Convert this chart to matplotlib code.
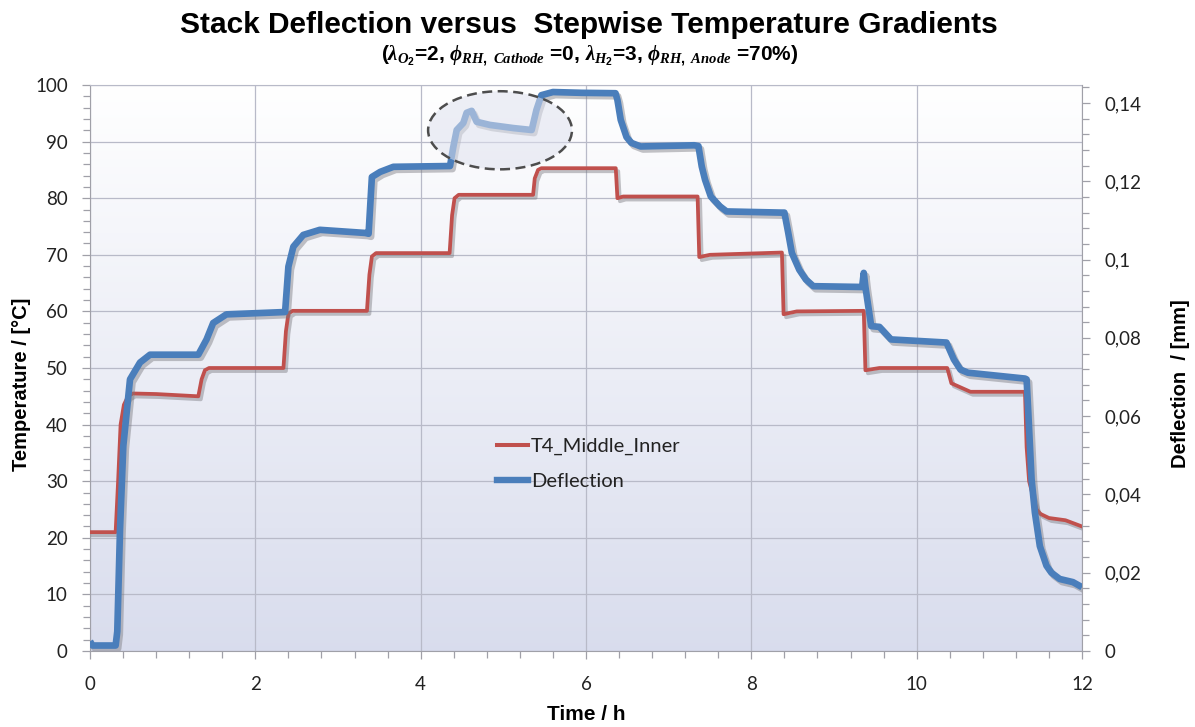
import numpy as np
import matplotlib
matplotlib.use("Agg")
import matplotlib.pyplot as plt
import matplotlib.patheffects as pe
from matplotlib.patches import Ellipse
from matplotlib.lines import Line2D
from matplotlib.ticker import MultipleLocator, FixedLocator

# ---------------- data ----------------
# T4_Middle_Inner temperature [°C] over time [h]
time_temp = [0.00, 0.31, 0.34, 0.37, 0.41, 0.46, 0.52, 0.80, 1.31, 1.35, 1.39, 1.44,
             2.34, 2.37, 2.40, 2.45, 3.35, 3.38, 3.41, 3.46, 4.35, 4.38, 4.41, 4.46,
             5.36, 5.38, 5.42, 5.46, 6.36, 6.38, 6.45, 7.35, 7.37, 7.50, 8.37,
             8.39, 8.55, 9.36, 9.38, 9.55, 10.37, 10.42, 10.65, 11.31, 11.33,
             11.36, 11.45, 11.50, 11.60, 11.80, 12.00]
temp = [21.0, 21.0, 30.0, 40.0, 43.5, 45.0, 45.5, 45.4, 45.0, 48.0, 49.6, 50.0,
        50.0, 56.5, 59.6, 60.1, 60.1, 66.5, 69.7, 70.3, 70.3, 77.0, 80.0, 80.6,
        80.6, 83.5, 85.0, 85.3, 85.3, 80.0, 80.3, 80.3, 69.6, 70.0, 70.4,
        59.5, 60.0, 60.1, 49.6, 50.0, 50.0, 47.3, 45.8, 45.8, 36.0,
        30.0, 25.0, 24.2, 23.5, 23.1, 22.0]

# Stack deflection [mm] over time [h]
time_defl = [0.00, 0.03, 0.31, 0.33, 0.363, 0.403, 0.484, 0.605, 0.726, 1.31, 1.41,
             1.49, 1.65, 2.36, 2.40, 2.46, 2.58, 2.78, 3.33, 3.37, 3.41, 3.51, 3.67,
             4.355, 4.395, 4.436, 4.516, 4.556, 4.617, 4.677, 4.838, 5.12, 5.343,
             5.40, 5.46, 5.60, 5.95, 6.357, 6.38, 6.42, 6.49, 6.55, 6.66, 7.31,
             7.36, 7.40, 7.44, 7.51, 7.62, 7.70, 8.36, 8.40, 8.445, 8.49, 8.58,
             8.66, 8.75, 9.34, 9.36, 9.38, 9.45, 9.55, 9.69, 10.36, 10.45, 10.53,
             10.62, 11.31, 11.33, 11.35, 11.39, 11.43, 11.49, 11.57, 11.63, 11.73,
             11.89, 12.00]
defl = [0.0025, 0.0014, 0.0014, 0.0050, 0.0310, 0.0524, 0.0694, 0.0737, 0.0757, 0.0757, 0.0796,
        0.0838, 0.0860, 0.0866, 0.0982, 0.1033, 0.1063, 0.1076, 0.1068, 0.1066, 0.1211, 0.1224, 0.1237,
        0.1239, 0.1288, 0.1331, 0.1349, 0.1375, 0.1380, 0.1352, 0.1344, 0.1336, 0.1331,
        0.1382, 0.1420, 0.1428, 0.1426, 0.1425, 0.1408, 0.1357, 0.1313, 0.1298, 0.1289, 0.1292,
        0.1290, 0.1238, 0.1204, 0.1161, 0.1136, 0.1123, 0.1120, 0.1120, 0.1070, 0.1017, 0.0974,
        0.0949, 0.0932, 0.0930, 0.0966, 0.0930, 0.0830, 0.0828, 0.0796, 0.0788, 0.0745, 0.0719,
        0.0711, 0.0696, 0.0694, 0.0610, 0.0439, 0.0354, 0.0268, 0.0218, 0.0200, 0.0184,
        0.0176, 0.0163]

x_ticks = [0, 2, 4, 6, 8, 10, 12]
temp_ticks = [0, 10, 20, 30, 40, 50, 60, 70, 80, 90, 100]
defl_ticks = [0, 0.02, 0.04, 0.06, 0.08, 0.10, 0.12, 0.14]
defl_labels = ["0", "0,02", "0,04", "0,06", "0,08", "0,1", "0,12", "0,14"]

series_names = ["T4_Middle_Inner", "Deflection"]

# ---------------- style ----------------
plt.rcParams["font.family"] = ["Lato", "DejaVu Sans"]
plt.rcParams["mathtext.fontset"] = "custom"
plt.rcParams["mathtext.rm"] = "Liberation Sans:bold"
plt.rcParams["mathtext.it"] = "Liberation Serif:italic:bold"
plt.rcParams["mathtext.bf"] = "Liberation Sans:bold"

RED = "#c0504d"
BLUE = "#4a7ebb"
AXIS_GREY = "#a0a0a8"
GRID_GREY = "#b8bac8"
BOLD_FONT = "Liberation Sans"

W, H = 1195, 727
fig = plt.figure(figsize=(W / 100, H / 100), dpi=100)
ax = fig.add_axes([90 / W, 76 / H, 992 / W, 566 / H])
ax.set_xlim(0, 12)
ax.set_ylim(0, 100)

# plot-area background: vertical white-to-lavender gradient
top_c = np.array([1.0, 1.0, 1.0])
bot_c = np.array([0.85, 0.865, 0.93])
frac = np.linspace(0, 1, 256)[:, None]
grad = (top_c * (1 - frac) + bot_c * frac)[:, None, :]
ax.imshow(grad, extent=[0, 12, 0, 100], aspect="auto", origin="upper",
          interpolation="bicubic", zorder=0)
ax.patch.set_visible(False)

ax.set_axisbelow(True)
ax.grid(True, which="major", color=GRID_GREY, linewidth=0.9)

shadow = [pe.SimpleLineShadow(offset=(1.8, -2.2), shadow_color="#7a7a80", alpha=0.45),
          pe.Normal()]

ax.plot(time_temp, temp, color=RED, linewidth=2.7, solid_joinstyle="round",
        path_effects=shadow, zorder=3)

ax2 = ax.twinx()
ax2.set_ylim(0, 0.1446)
ax2.plot(time_defl, defl, color=BLUE, linewidth=4.8, solid_joinstyle="round",
         solid_capstyle="butt", path_effects=shadow, zorder=3)

# highlight ellipse around the overshoot
ell = Ellipse((4.96, 92.0), 1.74, 13.8, transform=ax.transData,
              facecolor="#dfe2ef", alpha=0.55, edgecolor="none", zorder=6)
ax2.add_patch(ell)
ell_edge = Ellipse((4.96, 92.0), 1.74, 13.8, transform=ax.transData,
                   facecolor="none", edgecolor="#4d4d4d", linewidth=1.8,
                   linestyle=(0, (4, 2.2)), zorder=7)
ax2.add_patch(ell_edge)

# ---------------- axes & ticks ----------------
ax.xaxis.set_major_locator(FixedLocator(x_ticks))
ax.xaxis.set_minor_locator(MultipleLocator(0.4))
ax.set_xticklabels([str(v) for v in x_ticks])
ax.yaxis.set_major_locator(FixedLocator(temp_ticks))
ax.yaxis.set_minor_locator(MultipleLocator(2))
ax.set_yticklabels([str(v) for v in temp_ticks])
ax2.yaxis.set_major_locator(FixedLocator(defl_ticks))
ax2.yaxis.set_minor_locator(MultipleLocator(0.004))
ax2.set_yticklabels(defl_labels)

for a in (ax, ax2):
    a.tick_params(which="both", direction="out", color=AXIS_GREY, width=0.9,
                  labelsize=13.5, labelcolor="#222222")
    a.tick_params(which="major", length=6)
    a.tick_params(which="minor", length=5)
ax.tick_params(axis="x", pad=12)
ax.tick_params(axis="y", pad=10)
ax2.tick_params(axis="y", pad=10)

for s in ("left", "bottom", "right"):
    ax.spines[s].set_color(AXIS_GREY)
ax.spines["top"].set_color(GRID_GREY)
ax.spines["right"].set_visible(False)
for s in ("left", "top", "bottom"):
    ax2.spines[s].set_visible(False)
ax2.spines["right"].set_color(AXIS_GREY)

# ---------------- text ----------------
fig.text(589 / W, 1 - 25 / H, "Stack Deflection versus  Stepwise Temperature Gradients",
         ha="center", va="center", fontsize=21.5, fontweight="bold", family=BOLD_FONT)
fig.text(590 / W, 1 - 56 / H,
         r"($\lambda_{O_2}$=2, $\phi_{RH,\ Cathode}$ =0, $\lambda_{H_2}$=3, $\phi_{RH,\ Anode}$ =70%)",
         ha="center", va="center", fontsize=15, fontweight="bold", family=BOLD_FONT)
fig.text(22 / W, 1 - 384 / H, "Temperature / [°C]", rotation=90, ha="center", va="center",
         fontsize=14.5, fontweight="bold", family=BOLD_FONT)
fig.text(1180 / W, 1 - 384 / H, "Deflection  / [mm]", rotation=90, ha="center", va="center",
         fontsize=14.5, fontweight="bold", family=BOLD_FONT)
fig.text(586 / W, 1 - 714 / H, "Time / h", ha="center", va="center",
         fontsize=15, fontweight="bold", family=BOLD_FONT)

handles = [Line2D([], [], color=RED, linewidth=2.9),
           Line2D([], [], color=BLUE, linewidth=4.6)]
leg = ax2.legend(handles, series_names, loc="upper left",
                 bbox_to_anchor=(497 / W, 1 - 438 / H), bbox_transform=fig.transFigure,
                 frameon=False, fontsize=14.5, handlelength=1.55, handletextpad=0.12,
                 labelspacing=0.88, borderpad=0, borderaxespad=0)
for t in leg.get_texts():
    t.set_color("#222222")

fig.savefig("out.png", dpi=100)
